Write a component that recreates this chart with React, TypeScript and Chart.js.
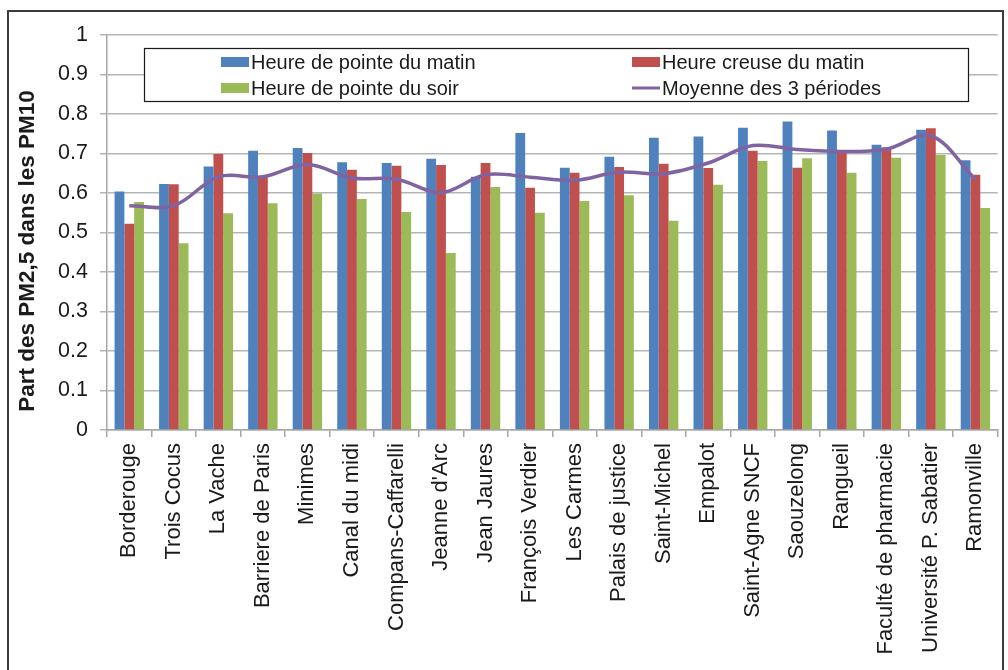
import React, { useEffect, useRef } from "react";
import { Chart, registerables } from "chart.js";

Chart.register(...registerables);

const stations = [
  "Borderouge",
  "Trois Cocus",
  "La Vache",
  "Barriere de Paris",
  "Minimes",
  "Canal du midi",
  "Compans-Caffarelli",
  "Jeanne d'Arc",
  "Jean Jaures",
  "François Verdier",
  "Les Carmes",
  "Palais de justice",
  "Saint-Michel",
  "Empalot",
  "Saint-Agne SNCF",
  "Saouzelong",
  "Rangueil",
  "Faculté de pharmacie",
  "Université P. Sabatier",
  "Ramonville",
];

const pointeMatin = [
  0.604, 0.623, 0.667, 0.707, 0.714, 0.678, 0.676, 0.687, 0.641, 0.752,
  0.664, 0.692, 0.74, 0.743, 0.765, 0.781, 0.758, 0.722, 0.76, 0.683,
];

const creuseMatin = [
  0.522, 0.622, 0.699, 0.641, 0.701, 0.659, 0.669, 0.671, 0.676, 0.613,
  0.651, 0.666, 0.674, 0.663, 0.707, 0.664, 0.705, 0.716, 0.764, 0.646,
];

const pointeSoir = [
  0.577, 0.473, 0.549, 0.574, 0.599, 0.585, 0.552, 0.448, 0.615, 0.55,
  0.58, 0.594, 0.53, 0.621, 0.681, 0.688, 0.651, 0.689, 0.696, 0.562,
];

const moyenne = [
  0.568, 0.568, 0.641, 0.641, 0.672, 0.638, 0.635, 0.601, 0.646, 0.64,
  0.632, 0.653, 0.649, 0.676, 0.72, 0.71, 0.705, 0.711, 0.745, 0.634,
];

const yTickLabels = ["0", "0.1", "0.2", "0.3", "0.4", "0.5", "0.6", "0.7", "0.8", "0.9", "1"];

const yTitle = "Part des PM2,5 dans les PM10";

const seriesNames = [
  "Heure de pointe du matin",
  "Heure creuse du matin",
  "Heure de pointe du soir",
  "Moyenne des 3 périodes",
];

const COLORS = {
  blue: "#4F81BD",
  red: "#C0504D",
  green: "#9BBB59",
  purple: "#8064A2",
};

const FONT = "'Liberation Sans', Arial, sans-serif";

// Outer frame around the whole figure
const framePlugin = {
  id: "frame",
  beforeDraw(chart: any) {
    const ctx = chart.ctx;
    ctx.save();
    ctx.fillStyle = "#ffffff";
    ctx.fillRect(0, 0, chart.width, chart.height);
    ctx.strokeStyle = "#3c3c3c";
    ctx.lineWidth = 2;
    ctx.strokeRect(8, 11, 995, 700);
    ctx.restore();
  },
};

// Vertical axis title, placed slightly below the axis midpoint
const yTitlePlugin = {
  id: "yTitle",
  afterDraw(chart: any) {
    const ctx = chart.ctx;
    ctx.save();
    ctx.translate(28, 251);
    ctx.rotate(-Math.PI / 2);
    ctx.font = `bold 22.5px ${FONT}`;
    ctx.fillStyle = "#1a1a1a";
    ctx.textAlign = "center";
    ctx.textBaseline = "middle";
    ctx.fillText(yTitle, 0, 0);
    ctx.restore();
  },
};

// Two-column boxed legend drawn inside the plot area
const boxLegendPlugin = {
  id: "boxLegend",
  afterDraw(chart: any) {
    const ctx = chart.ctx;
    const ds = chart.data.datasets;
    ctx.save();
    const bx = 144, by = 48, bw = 824, bh = 53;
    ctx.fillStyle = "#ffffff";
    ctx.fillRect(bx, by, bw, bh);
    ctx.strokeStyle = "#1a1a1a";
    ctx.lineWidth = 1.2;
    ctx.strokeRect(bx + 0.5, by + 0.5, bw, bh);

    // row 1: pointe matin | creuse matin ; row 2: pointe soir | moyenne
    const slots = [
      { i: 0, x: 221, y: 62 },
      { i: 1, x: 632, y: 62 },
      { i: 2, x: 221, y: 88 },
      { i: 3, x: 632, y: 88 },
    ];
    ctx.font = `20px ${FONT}`;
    ctx.textBaseline = "middle";
    ctx.textAlign = "left";
    for (const s of slots) {
      const d = ds[s.i];
      if (d.type === "line") {
        ctx.strokeStyle = d.borderColor;
        ctx.lineWidth = 3;
        ctx.beginPath();
        ctx.moveTo(s.x, s.y);
        ctx.lineTo(s.x + 28, s.y);
        ctx.stroke();
      } else {
        ctx.fillStyle = d.backgroundColor;
        ctx.fillRect(s.x, s.y - 5, 28, 10);
      }
      ctx.fillStyle = "#1a1a1a";
      ctx.fillText(d.label, s.x + 30, s.y + 1);
    }
    ctx.restore();
  },
};

export default function App() {
  const canvasRef = useRef<HTMLCanvasElement | null>(null);

  useEffect(() => {
    if (!canvasRef.current) return;
    const chart = new Chart(canvasRef.current, {
      type: "bar",
      data: {
        labels: stations,
        datasets: [
          {
            type: "bar",
            label: seriesNames[0],
            data: pointeMatin,
            backgroundColor: COLORS.blue,
            order: 1,
          },
          {
            type: "bar",
            label: seriesNames[1],
            data: creuseMatin,
            backgroundColor: COLORS.red,
            order: 1,
          },
          {
            type: "bar",
            label: seriesNames[2],
            data: pointeSoir,
            backgroundColor: COLORS.green,
            order: 1,
          },
          {
            type: "line",
            label: seriesNames[3],
            data: moyenne,
            borderColor: COLORS.purple,
            backgroundColor: COLORS.purple,
            borderWidth: 3.5,
            pointRadius: 0,
            tension: 0.35,
            order: 0,
          },
        ] as any,
      },
      options: {
        responsive: false,
        devicePixelRatio: 1,
        animation: false,
        datasets: {
          bar: { categoryPercentage: 0.66, barPercentage: 1 },
        },
        layout: { padding: { left: 0, right: 8, top: 35, bottom: 0 } },
        plugins: {
          legend: { display: false },
          tooltip: { enabled: false },
        },
        scales: {
          x: {
            afterFit(scale: any) {
              scale.height = 240;
            },
            grid: {
              display: true,
              offset: true,
              drawOnChartArea: false,
              drawTicks: true,
              tickLength: 7,
              color: "#a6a6a6",
              lineWidth: 1.5,
            },
            border: { color: "#a6a6a6", width: 1.5 },
            ticks: {
              autoSkip: false,
              minRotation: 90,
              maxRotation: 90,
              padding: 6,
              color: "#1a1a1a",
              font: { family: FONT, size: 22 },
            },
          },
          y: {
            min: 0,
            max: 1,
            afterFit(scale: any) {
              scale.width = 107;
            },
            ticks: {
              stepSize: 0.1,
              padding: 12,
              color: "#1a1a1a",
              font: { family: FONT, size: 21.5 },
              callback: (_v: any, i: number) => yTickLabels[i],
            },
            grid: {
              color: "#b5b5b5",
              lineWidth: 1.5,
              tickLength: 7,
            },
            border: { color: "#a6a6a6", width: 1.5 },
          },
        },
      },
      plugins: [framePlugin, yTitlePlugin, boxLegendPlugin],
    });
    return () => chart.destroy();
  }, []);

  return (
    <div style={{ position: "fixed", left: 0, top: 0, width: 1008, height: 670, background: "#fff" }}>
      <canvas ref={canvasRef} width={1008} height={670} style={{ display: "block" }} />
    </div>
  );
}
